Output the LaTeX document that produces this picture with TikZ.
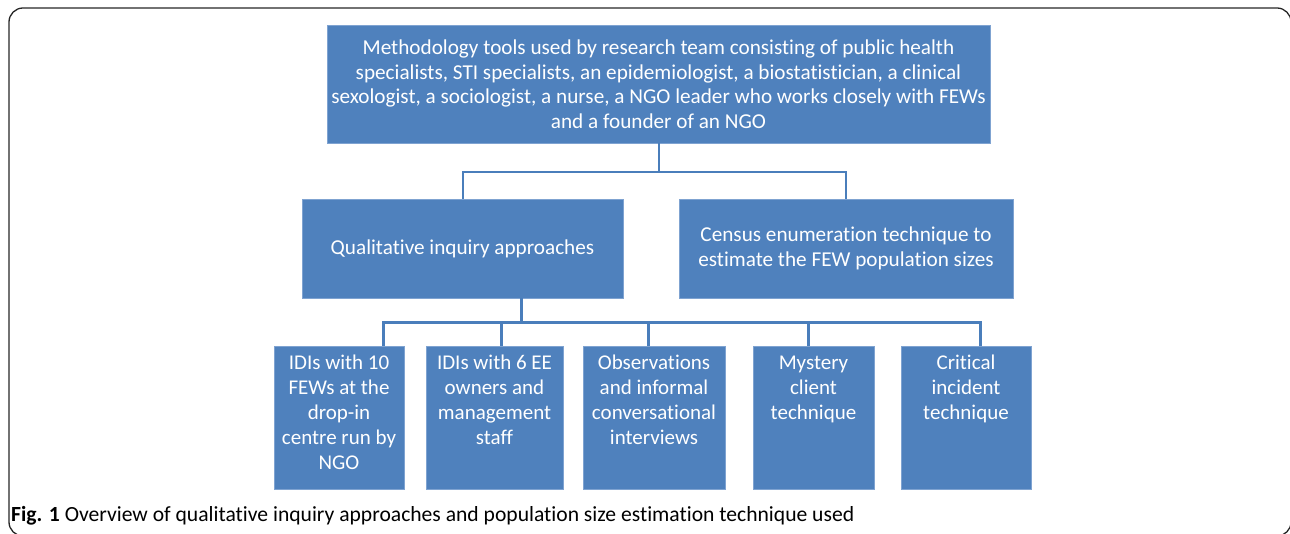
\documentclass[tikz,border=0pt]{standalone}
\usepackage{fontspec}
\setmainfont[Ligatures=NoCommon]{Carlito}
\usetikzlibrary{calc}
\definecolor{boxblue}{HTML}{4F81BD}
\definecolor{lineblue}{HTML}{4A7EBB}
\definecolor{boxedge}{HTML}{7FA3D1}
\newcommand\btext[2]{\parbox[c][143pt][t]{#1}{\centering\rule{0pt}{23pt}#2\par}}
\begin{document}
\begin{tikzpicture}[x=1pt,y=-1pt,
  box/.style={fill=boxblue,draw=boxedge,line width=0.6pt,text=white,inner sep=0pt,align=center,font=\fontsize{21.2}{24.5}\selectfont},
  bbox/.style={fill=boxblue,draw=boxedge,line width=0.6pt,text=white,inner sep=0pt,anchor=north,font=\fontsize{21}{25}\selectfont},
  conn/.style={draw=lineblue,line width=2pt},
  conn2/.style={draw=lineblue,line width=3pt}]
\useasboundingbox (0,0) rectangle (1290,534);
\draw[line width=1.3pt, rounded corners=14pt, draw=black!85] (9,8) rectangle (1291,536);

\node[box, minimum width=663pt, minimum height=118pt] (top) at (658.5,84)
  {Methodology tools used by research team consisting of public health\\
   specialists, STI specialists, an epidemiologist, a biostatistician, a clinical\\
   sexologist, a sociologist, a nurse, a NGO leader who works closely with FEWs\\
   and a founder of an NGO};
\node[box, minimum width=321pt, minimum height=99pt] (qual) at (462.5,248.5)
  {Qualitative inquiry approaches};
\node[box, minimum width=334pt, minimum height=99pt] (cens) at (846,248.5)
  {Census enumeration technique to\\estimate the FEW population sizes};

\node[bbox] (b1) at (339,346) {\btext{130pt}{IDIs with 10\\FEWs at the\\drop-in\\centre run by\\NGO}};
\node[bbox] (b2) at (494.5,346) {\btext{137pt}{IDIs with 6 EE\\owners and\\management\\staff}};
\node[bbox] (b3) at (654,346) {\btext{142pt}{Observations\\and informal\\conversational\\interviews}};
\node[bbox] (b4) at (813.5,346) {\btext{121pt}{Mystery\\client\\technique}};
\node[bbox] (b5) at (966,346) {\btext{130pt}{Critical\\incident\\technique}};

\draw[conn] (top.south) -- ++(0,29) -| (qual.north);
\draw[conn] (top.south) -- ++(0,29) -| (cens.north);
\coordinate (qb) at ([xshift=58.5pt]qual.south);
\draw[conn2] (qb) -- ++(0,24) coordinate (hb);
\draw[conn2] (hb) -| ([xshift=44pt]b1.north);
\draw[conn2] (hb) -| ([xshift=6.5pt]b2.north);
\draw[conn2] (hb) -| ([xshift=-6pt]b3.north);
\draw[conn2] (hb) -| ([xshift=-5.5pt]b4.north);
\draw[conn2] (hb) -| ([xshift=14pt]b5.north);

\node[anchor=base west, inner sep=0pt, font=\fontsize{21.6}{24}\selectfont] (cap) at (11,521)
  {\textbf{Fig. 1} Overview of qualitative inquiry approaches and population size estimation technique used};
\end{tikzpicture}
\end{document}
